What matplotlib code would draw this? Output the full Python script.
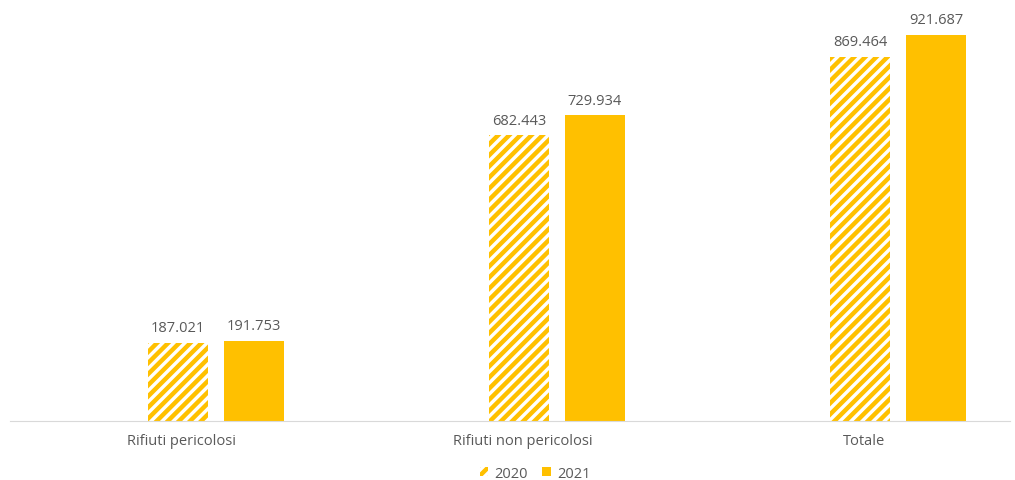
import numpy as np
import matplotlib.pyplot as plt
from matplotlib.patches import Patch

# Dati
categorie = ['Rifiuti pericolosi', 'Rifiuti non pericolosi', 'Totale']
valori_2020 = [187.021, 682.443, 869.464]
valori_2021 = [191.753, 729.934, 921.687]
etichette_2020 = ['187.021', '682.443', '869.464']
etichette_2021 = ['191.753', '729.934', '921.687']

giallo = '#FFC000'
grigio = '#595959'

plt.rcParams['hatch.linewidth'] = 3.2
plt.rcParams['font.family'] = ['Open Sans', 'DejaVu Sans']

fig = plt.figure(figsize=(10.15, 4.81), dpi=100)
ax = fig.add_axes([10 / 1015, 59 / 481, 1000 / 1015, 422 / 481])

x = np.arange(len(categorie))
w = 0.176
off = 0.111

b1 = ax.bar(x - off, valori_2020, w, color='white', edgecolor=giallo,
            hatch='///', linewidth=0)
b2 = ax.bar(x + off, valori_2021, w, color=giallo, linewidth=0)

# etichette dei valori
for rect, lab in zip(b1, etichette_2020):
    ax.text(rect.get_x() + rect.get_width() / 2, rect.get_height() + 18, lab,
            ha='center', va='bottom', fontsize=10.5, color=grigio)
for rect, lab in zip(b2, etichette_2021):
    ax.text(rect.get_x() + rect.get_width() / 2, rect.get_height() + 18, lab,
            ha='center', va='bottom', fontsize=10.5, color=grigio)

ax.set_xlim(-0.604, 2.328)
ax.set_ylim(0, 1007.6)
ax.set_xticks(x - 0.1)
ax.set_xticklabels(categorie, fontsize=10.5, color=grigio)
ax.tick_params(axis='x', length=0, pad=9)
ax.set_yticks([])
for s in ['top', 'right', 'left']:
    ax.spines[s].set_visible(False)
ax.spines['bottom'].set_color('#D9D9D9')

handles = [Patch(facecolor='white', edgecolor=giallo, hatch='///', linewidth=0, label='2020'),
           Patch(facecolor=giallo, linewidth=0, label='2021')]
fig.legend(handles=handles, loc='center', bbox_to_anchor=(535 / 1015, 1 - 474 / 481),
           ncol=2, frameon=False, fontsize=10.5, labelcolor=grigio,
           handlelength=0.6, handleheight=0.6, handletextpad=0.4, columnspacing=1.0)

fig.savefig('out.png', dpi=100)
